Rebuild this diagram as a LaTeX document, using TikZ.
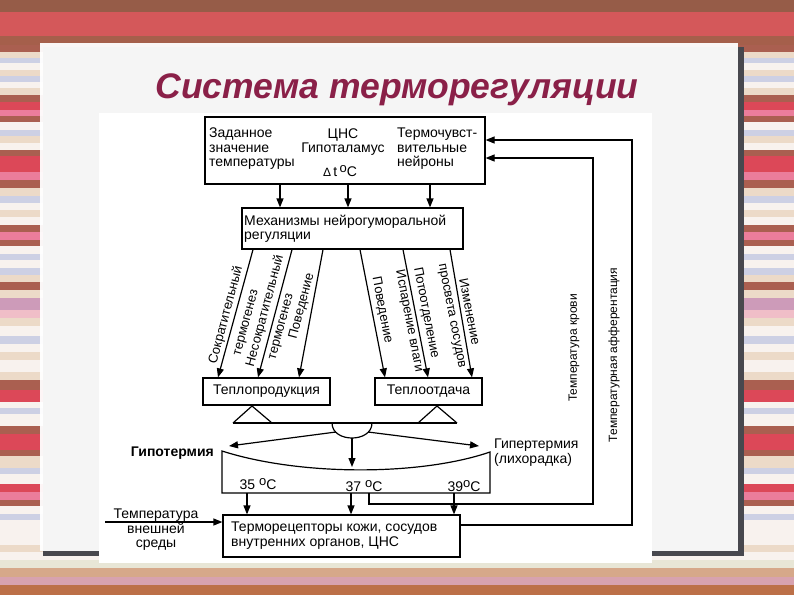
\documentclass[tikz,border=0pt]{standalone}
\usepackage{fontspec}
\setmainfont{Liberation Sans}
\usetikzlibrary{arrows.meta}
\definecolor{tA}{RGB}{150,92,72}
\definecolor{tR}{RGB}{212,88,90}
\definecolor{tB}{RGB}{165,95,75}
\definecolor{sA}{RGB}{240,190,200}
\definecolor{sB}{RGB}{248,242,238}
\definecolor{sC}{RGB}{205,208,228}
\definecolor{sD}{RGB}{220,72,88}
\definecolor{sE}{RGB}{170,95,80}
\definecolor{sF}{RGB}{236,218,200}
\definecolor{sG}{RGB}{235,125,155}
\definecolor{sH}{RGB}{205,155,185}
\definecolor{bA}{RGB}{232,230,214}
\definecolor{bB}{RGB}{214,168,138}
\definecolor{bC}{RGB}{215,162,175}
\definecolor{bD}{RGB}{188,112,72}
\definecolor{shadowc}{RGB}{72,72,78}
\definecolor{titlec}{RGB}{138,32,72}
\begin{document}
\begin{tikzpicture}[x=1pt,y=-1pt,
  box/.style={draw, line width=1.2pt, inner sep=0pt},
  ln/.style={line width=1.2pt},
  arr/.style={line width=1.2pt, -{Triangle[length=9pt,width=7pt]}},
  txt/.style={font=\fontsize{14}{14.5}\selectfont, inner sep=0pt, align=left},
  llab/.style={rotate=75, font=\fontsize{13}{13}\selectfont, inner sep=0pt},
  rlab/.style={rotate=-79, font=\fontsize{13}{13}\selectfont, inner sep=0pt},
  vlab/.style={rotate=90, font=\fontsize{12}{12}\selectfont, inner sep=0pt}]
\useasboundingbox (0,0) rectangle (794,595);
% background stripes
\fill[tA] (0,0) rectangle (794,12);
\fill[tR] (0,12) rectangle (794,36);
\fill[tB] (0,36) rectangle (794,45);
\foreach \a/\b/\c in {45/52/sE,52/58/sF,58/63/sC,63/70/sB,70/76/sF,76/82/sC,82/88/sB,88/95/sF,95/102/sE,102/110/sD,110/116/sG,116/122/sE,122/130/sB,130/136/sC,136/143/sF,143/150/sB,150/156/sE,156/172/sD,172/180/sG,180/188/sE,188/196/sF,196/203/sC,203/210/sB,210/217/sF,217/225/sB,225/232/sE,232/240/sG,240/246/sE,246/254/sB,254/260/sC,260/268/sB,268/275/sC,275/282/sF,282/290/sE,290/298/sF,298/310/sH,310/318/sA,318/326/sF,326/336/sB,336/344/sC,344/352/sB,352/360/sF,360/372/sB,372/380/sF,380/390/sE,390/402/sD,402/408/sB,408/414/sC,414/426/sB,426/434/sE,434/450/sD,450/456/sE,456/468/sF,468/474/sC,474/484/sB,484/492/sD,492/500/sG,500/506/sE,506/514/sB,514/520/sC,520/545/sB,545/552/sF,552/560/sB,560/568/bA,568/577/bB,577/585/bC,585/595/bD}
  {\fill[\c] (0,\a) rectangle (794,\b);}
% slide panel
\fill[shadowc] (43,47) rectangle (744,556);
\fill[white, opacity=0.95] (40,43) rectangle (738,551);
\fill[white] (99,113) rectangle (652,563);
% title
\node[anchor=base, text=titlec, font=\fontsize{35.5}{38}\selectfont\bfseries\itshape, inner sep=0pt] (title) at (397,98) {Система терморегуляции};
% top box
\node[box, minimum width=280pt, minimum height=67pt] (cns) at (345,150.5) {};
\node[txt, anchor=west] (setp) at (209,149) {Заданное\\значение\\температуры};
\node[txt, align=center] (hyp) at (343,142) {ЦНС\\Гипоталамус};
\node[txt] (dt) at (340,171) {{\fontsize{12}{12}\selectfont Δ}\,t\,\raisebox{4pt}{\fontsize{13}{13}\selectfont o}C};
\node[txt, anchor=west] (tn) at (397,149) {Термочувст-\\вительные\\нейроны};
% mechanism box
\node[box, minimum width=221pt, minimum height=41pt] (mech) at (352.5,228.5) {};
\node[txt, anchor=west] (mecht) at (244,229) {Механизмы нейрогуморальной\\регуляции};
\draw[arr] ([xshift=-65pt]cns.south) -- ([xshift=-72.5pt]mech.north);
\draw[arr] ([xshift=3pt]cns.south) -- ([xshift=-4.5pt]mech.north);
\draw[arr] ([xshift=85pt]cns.south) -- ([xshift=77.5pt]mech.north);
% heat boxes
\node[box, minimum width=127pt, minimum height=27pt, font=\fontsize{14}{14}\selectfont] (prod) at (266.5,391.5) {Теплопродукция};
\node[box, minimum width=107pt, minimum height=27pt, font=\fontsize{14}{14}\selectfont] (loss) at (428.5,391.5) {Теплоотдача};
% slanted arrows
\draw[arr] ([xshift=-99.5pt]mech.south) -- ([xshift=-48.5pt]prod.north);
\draw[arr] ([xshift=-60.5pt]mech.south) -- ([xshift=-8.5pt]prod.north);
\draw[arr] ([xshift=-29.5pt]mech.south) -- ([xshift=32.5pt]prod.north);
\draw[arr] ([xshift=7.5pt]mech.south) -- ([xshift=-43.5pt]loss.north);
\draw[arr] ([xshift=50.5pt]mech.south) -- ([xshift=-0.5pt]loss.north);
\draw[arr] ([xshift=97.5pt]mech.south) -- ([xshift=43.5pt]loss.north);
\node[llab] (l1a) at (226,315) {Сократительный};
\node[llab] (l1b) at (247,323) {термогенез};
\node[llab] (l2a) at (265,311) {Несократительный};
\node[llab] (l2b) at (282,327) {термогенез};
\node[llab] (l3a) at (302,306) {Поведение};
\node[rlab] (l4a) at (382,310) {Поведение};
\node[rlab] (l5b) at (409,321) {Испарение влаги};
\node[rlab] (l5a) at (426,313) {Потоотделение};
\node[rlab] (l6b) at (451,316) {просвета сосудов};
\node[rlab] (l6a) at (470,312) {Изменение};
% balance
\draw[ln] (233,423) -- (252,406) -- (272,423);
\draw[ln] (418,423) -- (437,406) -- (457,423);
\draw[ln] (233,423) -- (457,423);
\draw[ln] (332,423) .. controls (332,443) and (372,443) .. (372,423);
\coordinate (bl) at (336,432);
\coordinate (br) at (368,432);
\coordinate (bm) at (352,438);
\coordinate (tl) at (229,446);
\coordinate (tr) at (479,446);
\coordinate (tm) at (352,467);
\draw[arr] (bl) -- (tl);
\draw[arr] (br) -- (tr);
\draw[arr] (bm) -- (tm);
% scale
\draw[ln] (222,451) .. controls (300,476) and (420,476) .. (490,452) -- (490,493) -- (222,493) -- cycle;
\node[font=\fontsize{14}{14}\selectfont\bfseries, anchor=east, inner sep=0pt] (hypo) at (214,453) {Гипотермия};
\node[txt, anchor=west] (hyper) at (494,452.5) {Гипертермия\\(лихорадка)};
\node[txt] (t35) at (258,484) {35 \raisebox{4pt}{\fontsize{13}{13}\selectfont o}C};
\node[txt] (t37) at (364,486) {37 \raisebox{4pt}{\fontsize{13}{13}\selectfont o}C};
\node[txt] (t39) at (464,486) {39\raisebox{4pt}{\fontsize{13}{13}\selectfont o}C};
% receptors
\node[box, minimum width=237pt, minimum height=42pt] (rec) at (341.5,536) {};
\node[txt, anchor=west] (rect) at (231,535.5) {Терморецепторы кожи, сосудов\\внутренних органов, ЦНС};
\coordinate (s35) at (247,493);
\coordinate (s37) at (351,493);
\coordinate (s39) at (454,493);
\draw[arr] (s35) -- (s35 |- rec.north);
\draw[arr] (s37) -- (s37 |- rec.north);
\draw[arr] (s39) -- (s39 |- rec.north);
% environment
\node[txt, align=center] (env) at (156,530) {Температура\\внешней\\среды};
\coordinate (envs) at (105,522);
\draw[arr] (envs) -- ([yshift=14pt]rec.west);
% feedback loops
\coordinate (c37) at (369,493);
\draw[arr] (c37) |- (593,504) |- ([yshift=-7.5pt]cns.east);
\draw[arr] ([yshift=11pt]rec.east) -| (632,140) -- ([yshift=10.5pt]cns.east);
\node[vlab] (blood) at (574,348) {Температура крови};
\node[vlab] (aff) at (614,355) {Температурная афферентация};
\end{tikzpicture}
\end{document}
